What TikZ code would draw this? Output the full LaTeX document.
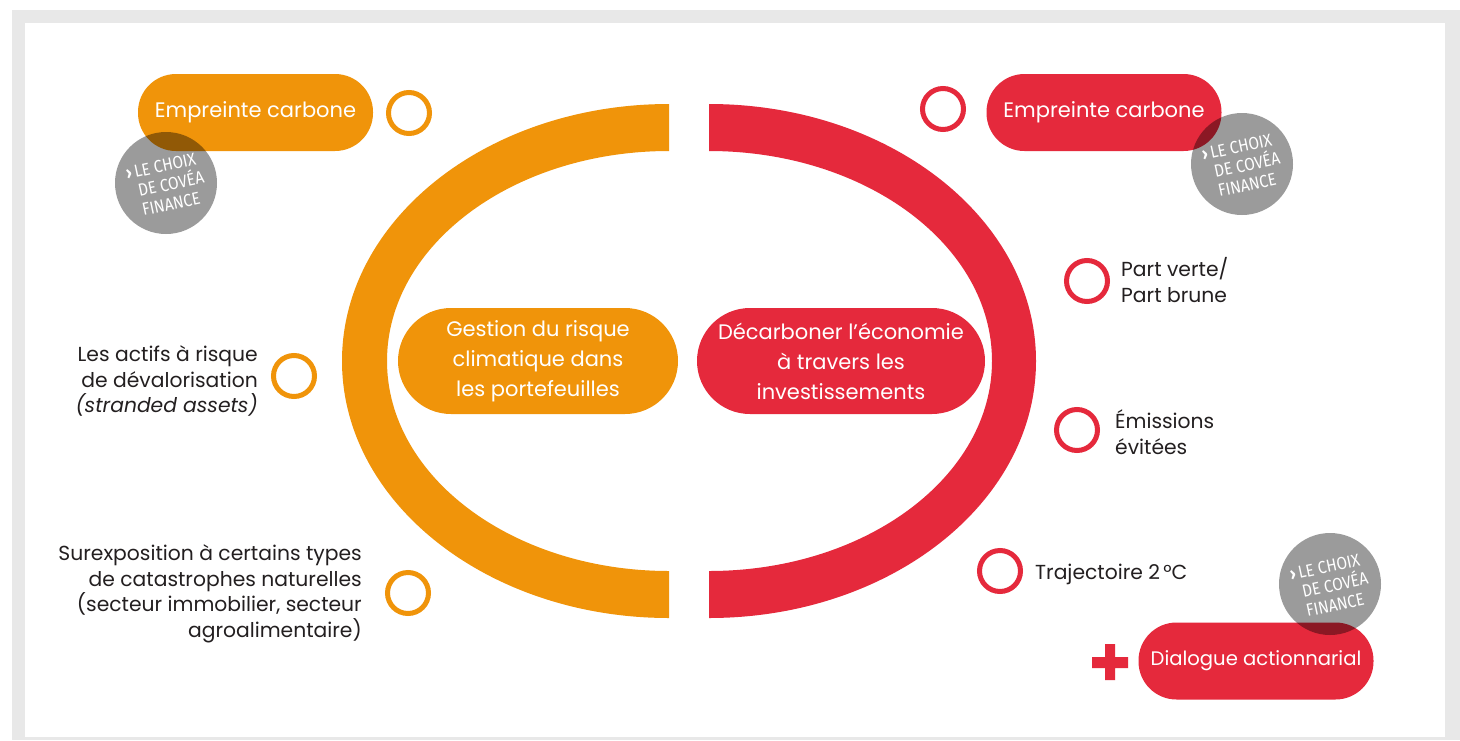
\documentclass[tikz,border=0pt]{standalone}
\usepackage{fontspec}
\setmainfont{Poppins}
\newfontfamily\choixfont[FakeStretch=0.88]{Fira Sans}
\usepackage{tikz}
\definecolor{covorange}{RGB}{240,148,10}
\definecolor{covred}{RGB}{229,41,60}
\definecolor{covgray}{RGB}{155,155,155}
\definecolor{framegray}{RGB}{232,232,232}
\definecolor{ink}{RGB}{35,31,32}

\begin{document}
\begin{tikzpicture}[x=1pt,y=-1pt,
    every node/.style={inner sep=0pt},
    ring/.style={circle, draw=#1, line width=5pt, minimum size=41pt},
    pill/.style={rectangle, fill=#1, rounded corners=38pt, minimum width=235pt,
      minimum height=77pt, text=white, font=\fontsize{21}{24}\selectfont},
    bigpill/.style={pill=#1, rounded corners=53pt, minimum height=106pt, align=center,
      font=\fontsize{21}{30}\selectfont},
    txt/.style={text=ink, font=\fontsize{20.3}{25.5}\selectfont},
    badge/.style={circle, fill=covgray, minimum size=102pt},
    choix/.style={rotate=12, align=left, text=white, font=\choixfont\fontsize{17.5}{19.5}\selectfont}]
  \useasboundingbox (0,0) rectangle (1460,740);
  \fill[framegray] (12,10) rectangle (1460,740);
  \fill[white] (25,23) rectangle (1445,737);

  % the two half rings
  \fill[covorange] (669,104) arc[start angle=270, end angle=90, x radius=327, y radius=257]
    -- (669,571) arc[start angle=90, end angle=270, x radius=282, y radius=210] -- cycle;
  \fill[covred] (709,104) arc[start angle=-90, end angle=90, x radius=327, y radius=257]
    -- (709,571) arc[start angle=90, end angle=-90, x radius=283, y radius=210] -- cycle;

  \node[bigpill=covorange, minimum width=280pt] (risk) at (538,361)
    {Gestion du risque\\climatique dans\\les portefeuilles};
  \node[bigpill=covred, minimum width=288pt] (decarb) at (841,361)
    {Décarboner l’économie\\à travers les\\investissements};

  % left side
  \node[pill=covorange] (empl) at (255.5,112.5) {Empreinte carbone};
  \node[ring=covorange] (ol1) at (409,113) {};
  \node[ring=covorange] (ol2) at (294,376) {};
  \node[ring=covorange] (ol3) at (408,593) {};
  \node[txt, anchor=east, align=right] (actifs) at (258,381)
    {Les actifs à risque\\de dévalorisation\\\textit{(stranded assets)}};
  \node[txt, anchor=east, align=right] (surexp) at (362,594)
    {Surexposition à certains types\\de catastrophes naturelles\\(secteur immobilier, secteur\\agroalimentaire)};

  % right side
  \node[pill=covred] (empr) at (1104,112.5) {Empreinte carbone};
  \node[pill=covred, font=\fontsize{19.6}{24}\selectfont] (dialog) at (1256,661) {Dialogue actionnarial};
  \node[ring=covred] (or1) at (943,109) {};
  \node[ring=covred] (or2) at (1087,281) {};
  \node[ring=covred] (or3) at (1077,430) {};
  \node[ring=covred] (or4) at (1000,571) {};
  \node[txt, anchor=west, align=left] (part) at (1121,280) {Part verte/\\Part brune};
  \node[txt, anchor=west, align=left] (emis) at (1115,432) {Émissions\\évitées};
  \node[txt, anchor=west] (traj) at (1035,574) {Trajectoire 2\,°C};
  \fill[covred] (1092,657) rectangle (1128,668) (1105,644) rectangle (1115,680);

  % badges
  \begin{scope}[blend mode=multiply]
    \node[badge] (b1) at (166,183) {};
    \node[badge] (b2) at (1242,164) {};
    \node[badge] (b3) at (1330,584) {};
  \end{scope}
  \foreach \b in {b1,b2,b3}
    \node[choix] at ([xshift=5pt,yshift=-1pt]\b.center) {\llap{\textbf{›}\,}LE CHOIX\\DE COVÉA\\FINANCE};
\end{tikzpicture}
\end{document}
